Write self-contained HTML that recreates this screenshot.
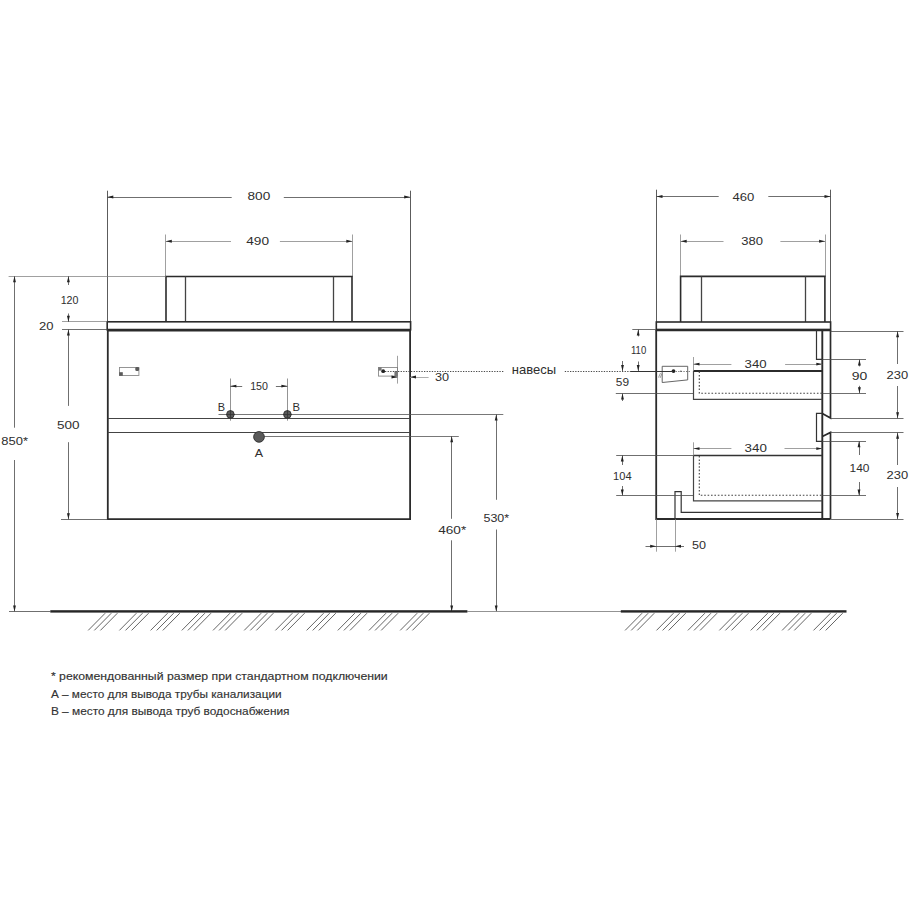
<!DOCTYPE html>
<html><head><meta charset="utf-8"><style>
html,body{margin:0;padding:0;background:#fff;width:909px;height:909px;overflow:hidden}
svg{display:block}
text{font-family:"Liberation Sans",sans-serif}
</style></head><body>
<svg width="909" height="909" viewBox="0 0 909 909">
<rect width="909" height="909" fill="#fff"/>
<line x1="107.5" y1="190.7" x2="107.5" y2="322" stroke="#4a4a4a" stroke-width="0.9"/>
<line x1="410.5" y1="190.7" x2="410.5" y2="322" stroke="#4a4a4a" stroke-width="0.9"/>
<line x1="107.3" y1="197.5" x2="231.7" y2="197.5" stroke="#4a4a4a" stroke-width="0.8"/>
<line x1="283.8" y1="197.5" x2="410.2" y2="197.5" stroke="#4a4a4a" stroke-width="0.8"/>
<polygon points="107.30,197.00 113.30,195.55 113.30,198.45" fill="#222"/>
<polygon points="410.20,197.00 404.20,195.55 404.20,198.45" fill="#222"/>
<text x="247.5" y="200.1" font-size="11.6" fill="#2e2e2e" textLength="22.70" lengthAdjust="spacingAndGlyphs">800</text>
<line x1="165.5" y1="234.5" x2="165.5" y2="277" stroke="#777" stroke-width="0.7"/>
<line x1="352.5" y1="234.5" x2="352.5" y2="277" stroke="#777" stroke-width="0.7"/>
<line x1="165.8" y1="241.5" x2="231" y2="241.5" stroke="#777" stroke-width="0.7"/>
<line x1="279.9" y1="241.5" x2="352.3" y2="241.5" stroke="#777" stroke-width="0.7"/>
<polygon points="165.80,241.30 171.80,239.85 171.80,242.75" fill="#222"/>
<polygon points="352.30,241.30 346.30,239.85 346.30,242.75" fill="#222"/>
<text x="246.2" y="245.3" font-size="11.6" fill="#2e2e2e" textLength="22.80" lengthAdjust="spacingAndGlyphs">490</text>
<polyline points="166,322 166,276.5 352,276.5 352,322" fill="none" stroke="#2b2b2b" stroke-width="1.6" stroke-linejoin="miter"/>
<line x1="185.5" y1="276.5" x2="185.5" y2="322" stroke="#444" stroke-width="1.3"/>
<line x1="333.5" y1="276.5" x2="333.5" y2="322" stroke="#444" stroke-width="1.3"/>
<rect x="107.2" y="321.8" width="303.4" height="8.0" fill="none" stroke="#2b2b2b" stroke-width="1.6"/>
<line x1="107.5" y1="330.1" x2="410.5" y2="330.1" stroke="#2b2b2b" stroke-width="2.6"/>
<polyline points="107.8,330 107.8,519.2 410.1,519.2 410.1,330" fill="none" stroke="#2b2b2b" stroke-width="1.8" stroke-linejoin="miter"/>
<line x1="107.8" y1="418.5" x2="410.1" y2="418.5" stroke="#444" stroke-width="1.0"/>
<line x1="107.8" y1="432.5" x2="410.1" y2="432.5" stroke="#444" stroke-width="1.0"/>
<line x1="8.6" y1="276.5" x2="166" y2="276.5" stroke="#777" stroke-width="0.7"/>
<line x1="62" y1="321.5" x2="107.3" y2="321.5" stroke="#777" stroke-width="0.7"/>
<line x1="62" y1="329.5" x2="107.3" y2="329.5" stroke="#4a4a4a" stroke-width="0.8"/>
<line x1="61" y1="519.5" x2="107.5" y2="519.5" stroke="#4a4a4a" stroke-width="0.8"/>
<line x1="68.5" y1="276.3" x2="68.5" y2="285" stroke="#4a4a4a" stroke-width="0.8"/>
<line x1="68.5" y1="313.5" x2="68.5" y2="321.8" stroke="#4a4a4a" stroke-width="0.8"/>
<polygon points="68.40,276.30 66.95,282.30 69.85,282.30" fill="#222"/>
<polygon points="68.40,321.80 66.95,315.80 69.85,315.80" fill="#222"/>
<text x="60.7" y="303.6" font-size="11.6" fill="#2e2e2e" textLength="17.80" lengthAdjust="spacingAndGlyphs">120</text>
<line x1="68.5" y1="329.4" x2="68.5" y2="405.9" stroke="#4a4a4a" stroke-width="0.8"/>
<polygon points="68.40,329.40 66.95,335.40 69.85,335.40" fill="#222"/>
<line x1="68.5" y1="442.2" x2="68.5" y2="519.3" stroke="#4a4a4a" stroke-width="0.8"/>
<polygon points="68.40,519.30 66.95,513.30 69.85,513.30" fill="#222"/>
<text x="39" y="330.0" font-size="11.6" fill="#2e2e2e" textLength="14.50" lengthAdjust="spacingAndGlyphs">20</text>
<text x="57" y="428.6" font-size="11.6" fill="#2e2e2e" textLength="22.50" lengthAdjust="spacingAndGlyphs">500</text>
<line x1="14.5" y1="276.3" x2="14.5" y2="427.7" stroke="#4a4a4a" stroke-width="0.8"/>
<line x1="14.5" y1="460" x2="14.5" y2="611.4" stroke="#4a4a4a" stroke-width="0.8"/>
<polygon points="14.50,276.30 13.05,282.30 15.95,282.30" fill="#222"/>
<polygon points="14.50,611.40 13.05,605.40 15.95,605.40" fill="#222"/>
<text x="1.3" y="444.9" font-size="11.6" fill="#2e2e2e" textLength="26.70" lengthAdjust="spacingAndGlyphs">850*</text>
<line x1="9" y1="611.5" x2="50.3" y2="611.5" stroke="#4a4a4a" stroke-width="0.8"/>
<rect x="119.5" y="367.5" width="19.4" height="8.0" fill="none" stroke="#8a8a8a" stroke-width="0.9"/>
<rect x="119.2" y="372.2" width="3.6" height="3.6" fill="#5a5a5a"/>
<rect x="135.3" y="367.1" width="3.8" height="4.0" rx="1.4" fill="#5a5a5a"/>
<rect x="378.5" y="367.5" width="19.0" height="8.6" fill="none" stroke="#8a8a8a" stroke-width="0.9"/>
<rect x="378.3" y="367.3" width="3.3" height="3.3" fill="#777"/>
<rect x="394.4" y="371.2" width="3.1" height="5.2" fill="#777"/>
<circle cx="383.2" cy="371.2" r="1.9" fill="#222"/>
<line x1="385" y1="371.5" x2="503.4" y2="371.5" stroke="#4a4a4a" stroke-width="1" stroke-dasharray="1.3 1.3"/>
<line x1="564.8" y1="371.5" x2="631" y2="371.5" stroke="#4a4a4a" stroke-width="1" stroke-dasharray="1.3 1.3"/>
<line x1="673" y1="371.5" x2="690" y2="371.5" stroke="#777" stroke-width="1" stroke-dasharray="1.3 1.3"/>
<text x="511.8" y="374.1" font-size="12.4" fill="#2e2e2e" textLength="44.30" lengthAdjust="spacingAndGlyphs">навесы</text>
<line x1="397.5" y1="355.8" x2="397.5" y2="383.6" stroke="#777" stroke-width="0.7"/>
<line x1="392" y1="377.5" x2="397.5" y2="377.5" stroke="#777" stroke-width="0.7"/>
<polygon points="397.50,377.00 391.50,375.55 391.50,378.45" fill="#222"/>
<line x1="410" y1="377.5" x2="428.6" y2="377.5" stroke="#999" stroke-width="0.8"/>
<polygon points="410.00,377.00 416.00,375.55 416.00,378.45" fill="#222"/>
<text x="435" y="380.7" font-size="11.6" fill="#2e2e2e" textLength="14.10" lengthAdjust="spacingAndGlyphs">30</text>
<line x1="230.5" y1="378.5" x2="230.5" y2="420.7" stroke="#666" stroke-width="0.7"/>
<line x1="287.5" y1="378.5" x2="287.5" y2="420.7" stroke="#666" stroke-width="0.7"/>
<line x1="230.4" y1="386.5" x2="242.2" y2="386.5" stroke="#4a4a4a" stroke-width="0.8"/>
<line x1="275.9" y1="386.5" x2="287.4" y2="386.5" stroke="#4a4a4a" stroke-width="0.8"/>
<polygon points="230.40,386.10 236.40,384.65 236.40,387.55" fill="#222"/>
<polygon points="287.40,386.10 281.40,384.65 281.40,387.55" fill="#222"/>
<text x="250.2" y="389.7" font-size="11.6" fill="#2e2e2e" textLength="17.80" lengthAdjust="spacingAndGlyphs">150</text>
<line x1="218.5" y1="414.5" x2="503.3" y2="414.5" stroke="#555" stroke-width="0.8"/>
<circle cx="230.4" cy="414.4" r="3.8" fill="#5a5a5a" stroke="#303030" stroke-width="0.9"/>
<line x1="230.5" y1="410" x2="230.5" y2="419" stroke="#333" stroke-width="0.8"/>
<line x1="226" y1="414.5" x2="235" y2="414.5" stroke="#333" stroke-width="0.8"/>
<circle cx="287.4" cy="414.4" r="3.8" fill="#5a5a5a" stroke="#303030" stroke-width="0.9"/>
<line x1="287.5" y1="410" x2="287.5" y2="419" stroke="#333" stroke-width="0.8"/>
<line x1="283" y1="414.5" x2="292" y2="414.5" stroke="#333" stroke-width="0.8"/>
<text x="217.8" y="410.8" font-size="11.6" fill="#2e2e2e" textLength="7.30" lengthAdjust="spacingAndGlyphs">B</text>
<text x="292.4" y="410.8" font-size="11.6" fill="#2e2e2e" textLength="7.50" lengthAdjust="spacingAndGlyphs">B</text>
<line x1="259" y1="436.5" x2="458.8" y2="436.5" stroke="#555" stroke-width="0.8"/>
<circle cx="259" cy="436.9" r="5.35" fill="#5a5a5a" stroke="#303030" stroke-width="0.9"/>
<text x="254.8" y="457" font-size="11.6" fill="#2e2e2e" textLength="8.30" lengthAdjust="spacingAndGlyphs">A</text>
<line x1="451.5" y1="436.3" x2="451.5" y2="518.8" stroke="#4a4a4a" stroke-width="0.8"/>
<line x1="451.5" y1="540.3" x2="451.5" y2="611.4" stroke="#4a4a4a" stroke-width="0.8"/>
<polygon points="451.70,436.30 450.25,442.30 453.15,442.30" fill="#222"/>
<polygon points="451.70,611.40 450.25,605.40 453.15,605.40" fill="#222"/>
<text x="438.2" y="534" font-size="11.6" fill="#2e2e2e" textLength="28.00" lengthAdjust="spacingAndGlyphs">460*</text>
<line x1="496.5" y1="414.5" x2="496.5" y2="499.8" stroke="#4a4a4a" stroke-width="0.8"/>
<line x1="496.5" y1="529.5" x2="496.5" y2="611.4" stroke="#4a4a4a" stroke-width="0.8"/>
<polygon points="496.20,414.50 494.75,420.50 497.65,420.50" fill="#222"/>
<polygon points="496.20,611.40 494.75,605.40 497.65,605.40" fill="#222"/>
<text x="483.5" y="522.1" font-size="11.6" fill="#2e2e2e" textLength="25.60" lengthAdjust="spacingAndGlyphs">530*</text>
<rect x="50.3" y="610.2" width="417.1" height="2.4" fill="#262626"/>
<line x1="467" y1="611.5" x2="621" y2="611.5" stroke="#777" stroke-width="0.8"/>
<line x1="88.20" y1="630.4" x2="105.20" y2="613.2" stroke="#555" stroke-width="0.9"/>
<line x1="94.30" y1="630.4" x2="111.30" y2="613.2" stroke="#555" stroke-width="0.9"/>
<line x1="100.40" y1="630.4" x2="117.40" y2="613.2" stroke="#555" stroke-width="0.9"/>
<line x1="119.40" y1="630.4" x2="136.40" y2="613.2" stroke="#555" stroke-width="0.9"/>
<line x1="125.50" y1="630.4" x2="142.50" y2="613.2" stroke="#555" stroke-width="0.9"/>
<line x1="131.60" y1="630.4" x2="148.60" y2="613.2" stroke="#555" stroke-width="0.9"/>
<line x1="150.60" y1="630.4" x2="167.60" y2="613.2" stroke="#555" stroke-width="0.9"/>
<line x1="156.70" y1="630.4" x2="173.70" y2="613.2" stroke="#555" stroke-width="0.9"/>
<line x1="162.80" y1="630.4" x2="179.80" y2="613.2" stroke="#555" stroke-width="0.9"/>
<line x1="181.80" y1="630.4" x2="198.80" y2="613.2" stroke="#555" stroke-width="0.9"/>
<line x1="187.90" y1="630.4" x2="204.90" y2="613.2" stroke="#555" stroke-width="0.9"/>
<line x1="194.00" y1="630.4" x2="211.00" y2="613.2" stroke="#555" stroke-width="0.9"/>
<line x1="213.00" y1="630.4" x2="230.00" y2="613.2" stroke="#555" stroke-width="0.9"/>
<line x1="219.10" y1="630.4" x2="236.10" y2="613.2" stroke="#555" stroke-width="0.9"/>
<line x1="225.20" y1="630.4" x2="242.20" y2="613.2" stroke="#555" stroke-width="0.9"/>
<line x1="244.20" y1="630.4" x2="261.20" y2="613.2" stroke="#555" stroke-width="0.9"/>
<line x1="250.30" y1="630.4" x2="267.30" y2="613.2" stroke="#555" stroke-width="0.9"/>
<line x1="256.40" y1="630.4" x2="273.40" y2="613.2" stroke="#555" stroke-width="0.9"/>
<line x1="275.40" y1="630.4" x2="292.40" y2="613.2" stroke="#555" stroke-width="0.9"/>
<line x1="281.50" y1="630.4" x2="298.50" y2="613.2" stroke="#555" stroke-width="0.9"/>
<line x1="287.60" y1="630.4" x2="304.60" y2="613.2" stroke="#555" stroke-width="0.9"/>
<line x1="306.60" y1="630.4" x2="323.60" y2="613.2" stroke="#555" stroke-width="0.9"/>
<line x1="312.70" y1="630.4" x2="329.70" y2="613.2" stroke="#555" stroke-width="0.9"/>
<line x1="318.80" y1="630.4" x2="335.80" y2="613.2" stroke="#555" stroke-width="0.9"/>
<line x1="337.80" y1="630.4" x2="354.80" y2="613.2" stroke="#555" stroke-width="0.9"/>
<line x1="343.90" y1="630.4" x2="360.90" y2="613.2" stroke="#555" stroke-width="0.9"/>
<line x1="350.00" y1="630.4" x2="367.00" y2="613.2" stroke="#555" stroke-width="0.9"/>
<line x1="369.00" y1="630.4" x2="386.00" y2="613.2" stroke="#555" stroke-width="0.9"/>
<line x1="375.10" y1="630.4" x2="392.10" y2="613.2" stroke="#555" stroke-width="0.9"/>
<line x1="381.20" y1="630.4" x2="398.20" y2="613.2" stroke="#555" stroke-width="0.9"/>
<line x1="400.20" y1="630.4" x2="417.20" y2="613.2" stroke="#555" stroke-width="0.9"/>
<line x1="406.30" y1="630.4" x2="423.30" y2="613.2" stroke="#555" stroke-width="0.9"/>
<line x1="412.40" y1="630.4" x2="429.40" y2="613.2" stroke="#555" stroke-width="0.9"/>
<line x1="656.5" y1="189.7" x2="656.5" y2="322" stroke="#4a4a4a" stroke-width="0.9"/>
<line x1="830.5" y1="189.7" x2="830.5" y2="322" stroke="#4a4a4a" stroke-width="0.9"/>
<line x1="656.5" y1="196.5" x2="718.7" y2="196.5" stroke="#4a4a4a" stroke-width="0.8"/>
<line x1="768.3" y1="196.5" x2="830.5" y2="196.5" stroke="#4a4a4a" stroke-width="0.8"/>
<polygon points="656.50,196.50 662.50,195.05 662.50,197.95" fill="#222"/>
<polygon points="830.50,196.50 824.50,195.05 824.50,197.95" fill="#222"/>
<text x="732.4" y="200.6" font-size="11.6" fill="#2e2e2e" textLength="21.80" lengthAdjust="spacingAndGlyphs">460</text>
<line x1="680.5" y1="234.5" x2="680.5" y2="277" stroke="#777" stroke-width="0.7"/>
<line x1="825.5" y1="234.5" x2="825.5" y2="277" stroke="#777" stroke-width="0.7"/>
<line x1="680.7" y1="241.5" x2="723.5" y2="241.5" stroke="#777" stroke-width="0.7"/>
<line x1="780.4" y1="241.5" x2="825.1" y2="241.5" stroke="#777" stroke-width="0.7"/>
<polygon points="680.70,241.20 686.70,239.75 686.70,242.65" fill="#222"/>
<polygon points="825.10,241.20 819.10,239.75 819.10,242.65" fill="#222"/>
<text x="741.2" y="245.3" font-size="11.6" fill="#2e2e2e" textLength="21.70" lengthAdjust="spacingAndGlyphs">380</text>
<polyline points="680.6,322 680.6,276.4 824.9,276.4 824.9,322" fill="none" stroke="#2b2b2b" stroke-width="1.6" stroke-linejoin="miter"/>
<line x1="701.5" y1="276.4" x2="701.5" y2="322" stroke="#444" stroke-width="1.3"/>
<line x1="805.5" y1="276.4" x2="805.5" y2="322" stroke="#444" stroke-width="1.3"/>
<rect x="656.3" y="322" width="174.3" height="7.7" fill="none" stroke="#2b2b2b" stroke-width="1.6"/>
<line x1="656.3" y1="330.0" x2="830.6" y2="330.0" stroke="#2b2b2b" stroke-width="2.6"/>
<polyline points="656.2,330 656.2,519.0 830.6,519.0" fill="none" stroke="#2b2b2b" stroke-width="1.8" stroke-linejoin="miter"/>
<polyline points="830.5,330 830.5,418.1 822.3,413.5" fill="none" stroke="#2b2b2b" stroke-width="1.7" stroke-linejoin="miter"/>
<line x1="822.3" y1="330" x2="822.3" y2="519" stroke="#2b2b2b" stroke-width="1.9"/>
<polyline points="816.5,330 816.5,359.3 822.3,359.3" fill="none" stroke="#333" stroke-width="1.2" stroke-linejoin="miter"/>
<polyline points="822.3,413.3 816.5,413.3 816.5,441.4 822.3,441.4" fill="none" stroke="#333" stroke-width="1.2" stroke-linejoin="miter"/>
<polyline points="822.3,436.6 830.5,432.5 830.5,519" fill="none" stroke="#2b2b2b" stroke-width="1.7" stroke-linejoin="miter"/>
<polyline points="693.5,371.0 822.3,371.0" fill="none" stroke="#2b2b2b" stroke-width="1.8" stroke-linejoin="miter"/>
<polyline points="693.5,371 693.5,399.3 822.3,399.3" fill="none" stroke="#444" stroke-width="1.2" stroke-linejoin="miter"/>
<polyline points="699.3,371.5 699.3,393.3 822,393.3" fill="none" stroke="#444" stroke-width="1.1" stroke-dasharray="1.6 1.8"/>
<polyline points="693.5,455.5 822.3,455.5" fill="none" stroke="#333" stroke-width="1.3" stroke-linejoin="miter"/>
<polyline points="693.5,455.5 693.5,500.9 822.3,500.9" fill="none" stroke="#444" stroke-width="1.2" stroke-linejoin="miter"/>
<polyline points="699.3,456 699.3,495.3 822,495.3" fill="none" stroke="#444" stroke-width="1.1" stroke-dasharray="1.6 1.8"/>
<polyline points="675,519 675,491.6 681.2,491.6 681.2,512.3 822.3,512.3" fill="none" stroke="#333" stroke-width="1.2" stroke-linejoin="miter"/>
<polygon points="662.2,366.3 687.7,366.3 687.7,379.9 662.2,382.5" fill="none" stroke="#555" stroke-width="0.9" stroke-linejoin="miter"/>
<circle cx="673.5" cy="371.1" r="1.9" fill="#222"/>
<circle cx="680.9" cy="371.3" r="0.8" fill="#555"/>
<line x1="631" y1="371.5" x2="673" y2="371.5" stroke="#333" stroke-width="1.2"/>
<path d="M658.5,377.5 L660.5,373 M660,378 L662,373.5" stroke="#777" stroke-width="0.7"/>
<line x1="632.3" y1="329.5" x2="656" y2="329.5" stroke="#4a4a4a" stroke-width="0.8"/>
<line x1="638.5" y1="329.6" x2="638.5" y2="336.4" stroke="#4a4a4a" stroke-width="0.8"/>
<polygon points="638.20,329.60 636.75,335.60 639.65,335.60" fill="#222"/>
<line x1="638.5" y1="361.5" x2="638.5" y2="371" stroke="#4a4a4a" stroke-width="0.8"/>
<polygon points="638.20,371.00 636.75,365.00 639.65,365.00" fill="#222"/>
<text x="631" y="353.6" font-size="11.6" fill="#2e2e2e" textLength="15.20" lengthAdjust="spacingAndGlyphs">110</text>
<line x1="622.5" y1="361" x2="622.5" y2="371" stroke="#4a4a4a" stroke-width="0.8"/>
<polygon points="622.50,371.00 621.05,365.00 623.95,365.00" fill="#222"/>
<line x1="615.8" y1="393.5" x2="693.5" y2="393.5" stroke="#4a4a4a" stroke-width="0.8"/>
<line x1="622.5" y1="393.5" x2="622.5" y2="401" stroke="#4a4a4a" stroke-width="0.8"/>
<polygon points="622.50,393.50 621.05,399.50 623.95,399.50" fill="#222"/>
<text x="615.8" y="385.5" font-size="11.6" fill="#2e2e2e" textLength="13.20" lengthAdjust="spacingAndGlyphs">59</text>
<line x1="693.5" y1="357" x2="693.5" y2="371" stroke="#777" stroke-width="0.7"/>
<line x1="693.5" y1="364.5" x2="731.4" y2="364.5" stroke="#777" stroke-width="0.7"/>
<line x1="785.1" y1="364.5" x2="822.3" y2="364.5" stroke="#777" stroke-width="0.7"/>
<polygon points="693.50,364.10 699.50,362.65 699.50,365.55" fill="#222"/>
<polygon points="822.30,364.10 816.30,362.65 816.30,365.55" fill="#222"/>
<text x="744.6" y="367.9" font-size="11.6" fill="#2e2e2e" textLength="22.00" lengthAdjust="spacingAndGlyphs">340</text>
<line x1="693.5" y1="442.3" x2="693.5" y2="455.5" stroke="#777" stroke-width="0.7"/>
<line x1="693.5" y1="448.5" x2="731.4" y2="448.5" stroke="#777" stroke-width="0.7"/>
<line x1="784.5" y1="448.5" x2="822.3" y2="448.5" stroke="#777" stroke-width="0.7"/>
<polygon points="693.50,448.60 699.50,447.15 699.50,450.05" fill="#222"/>
<polygon points="822.30,448.60 816.30,447.15 816.30,450.05" fill="#222"/>
<text x="744.6" y="452.4" font-size="11.6" fill="#2e2e2e" textLength="22.30" lengthAdjust="spacingAndGlyphs">340</text>
<line x1="616.2" y1="455.5" x2="693.5" y2="455.5" stroke="#4a4a4a" stroke-width="0.8"/>
<line x1="616.2" y1="495.5" x2="693.5" y2="495.5" stroke="#4a4a4a" stroke-width="0.8"/>
<line x1="622.5" y1="455.4" x2="622.5" y2="465" stroke="#4a4a4a" stroke-width="0.8"/>
<polygon points="622.30,455.40 620.85,461.40 623.75,461.40" fill="#222"/>
<line x1="622.5" y1="486" x2="622.5" y2="495.5" stroke="#4a4a4a" stroke-width="0.8"/>
<polygon points="622.30,495.50 620.85,489.50 623.75,489.50" fill="#222"/>
<text x="613.1" y="479.8" font-size="11.6" fill="#2e2e2e" textLength="18.50" lengthAdjust="spacingAndGlyphs">104</text>
<line x1="656.5" y1="519" x2="656.5" y2="551.7" stroke="#777" stroke-width="0.7"/>
<line x1="675.5" y1="519" x2="675.5" y2="551.7" stroke="#777" stroke-width="0.7"/>
<line x1="645.5" y1="546.5" x2="684" y2="546.5" stroke="#4a4a4a" stroke-width="0.8"/>
<polygon points="656.20,546.30 650.20,544.85 650.20,547.75" fill="#222"/>
<polygon points="675.00,546.30 681.00,544.85 681.00,547.75" fill="#222"/>
<text x="692" y="549.1" font-size="11.6" fill="#2e2e2e" textLength="14.00" lengthAdjust="spacingAndGlyphs">50</text>
<line x1="830.5" y1="331.5" x2="903.5" y2="331.5" stroke="#4a4a4a" stroke-width="0.8"/>
<line x1="830.5" y1="418.5" x2="903.5" y2="418.5" stroke="#4a4a4a" stroke-width="0.8"/>
<line x1="830.5" y1="432.5" x2="903.5" y2="432.5" stroke="#4a4a4a" stroke-width="0.8"/>
<line x1="830.5" y1="519.5" x2="903.5" y2="519.5" stroke="#4a4a4a" stroke-width="0.8"/>
<line x1="822.3" y1="359.5" x2="866" y2="359.5" stroke="#4a4a4a" stroke-width="0.8"/>
<line x1="822.3" y1="393.5" x2="866" y2="393.5" stroke="#4a4a4a" stroke-width="0.8"/>
<line x1="822.3" y1="441.5" x2="866" y2="441.5" stroke="#4a4a4a" stroke-width="0.8"/>
<line x1="822.3" y1="495.5" x2="866" y2="495.5" stroke="#4a4a4a" stroke-width="0.8"/>
<line x1="897.5" y1="331.2" x2="897.5" y2="364" stroke="#4a4a4a" stroke-width="0.8"/>
<line x1="897.5" y1="386" x2="897.5" y2="418.3" stroke="#4a4a4a" stroke-width="0.8"/>
<polygon points="897.60,331.20 896.15,337.20 899.05,337.20" fill="#222"/>
<polygon points="897.60,418.30 896.15,412.30 899.05,412.30" fill="#222"/>
<text x="886.6" y="378.9" font-size="11.6" fill="#2e2e2e" textLength="21.60" lengthAdjust="spacingAndGlyphs">230</text>
<line x1="897.5" y1="432.7" x2="897.5" y2="465" stroke="#4a4a4a" stroke-width="0.8"/>
<line x1="897.5" y1="487" x2="897.5" y2="519" stroke="#4a4a4a" stroke-width="0.8"/>
<polygon points="897.60,432.70 896.15,438.70 899.05,438.70" fill="#222"/>
<polygon points="897.60,519.00 896.15,513.00 899.05,513.00" fill="#222"/>
<text x="886.6" y="479.0" font-size="11.6" fill="#2e2e2e" textLength="21.60" lengthAdjust="spacingAndGlyphs">230</text>
<line x1="859.5" y1="359.5" x2="859.5" y2="366.4" stroke="#4a4a4a" stroke-width="0.8"/>
<polygon points="859.40,359.50 857.95,365.50 860.85,365.50" fill="#222"/>
<line x1="859.5" y1="385.8" x2="859.5" y2="393.2" stroke="#4a4a4a" stroke-width="0.8"/>
<polygon points="859.40,393.20 857.95,387.20 860.85,387.20" fill="#222"/>
<text x="851.7" y="379.5" font-size="11.6" fill="#2e2e2e" textLength="15.50" lengthAdjust="spacingAndGlyphs">90</text>
<line x1="859.5" y1="441.2" x2="859.5" y2="455" stroke="#4a4a4a" stroke-width="0.8"/>
<polygon points="859.00,441.20 857.55,447.20 860.45,447.20" fill="#222"/>
<line x1="859.5" y1="482" x2="859.5" y2="495.5" stroke="#4a4a4a" stroke-width="0.8"/>
<polygon points="859.00,495.50 857.55,489.50 860.45,489.50" fill="#222"/>
<text x="849.5" y="472.4" font-size="11.6" fill="#2e2e2e" textLength="19.90" lengthAdjust="spacingAndGlyphs">140</text>
<rect x="620.8" y="610.2" width="225.7" height="2.4" fill="#262626"/>
<line x1="625.10" y1="630.4" x2="642.10" y2="613.2" stroke="#555" stroke-width="0.9"/>
<line x1="631.20" y1="630.4" x2="648.20" y2="613.2" stroke="#555" stroke-width="0.9"/>
<line x1="637.30" y1="630.4" x2="654.30" y2="613.2" stroke="#555" stroke-width="0.9"/>
<line x1="656.50" y1="630.4" x2="673.50" y2="613.2" stroke="#555" stroke-width="0.9"/>
<line x1="662.60" y1="630.4" x2="679.60" y2="613.2" stroke="#555" stroke-width="0.9"/>
<line x1="668.70" y1="630.4" x2="685.70" y2="613.2" stroke="#555" stroke-width="0.9"/>
<line x1="687.90" y1="630.4" x2="704.90" y2="613.2" stroke="#555" stroke-width="0.9"/>
<line x1="694.00" y1="630.4" x2="711.00" y2="613.2" stroke="#555" stroke-width="0.9"/>
<line x1="700.10" y1="630.4" x2="717.10" y2="613.2" stroke="#555" stroke-width="0.9"/>
<line x1="719.30" y1="630.4" x2="736.30" y2="613.2" stroke="#555" stroke-width="0.9"/>
<line x1="725.40" y1="630.4" x2="742.40" y2="613.2" stroke="#555" stroke-width="0.9"/>
<line x1="731.50" y1="630.4" x2="748.50" y2="613.2" stroke="#555" stroke-width="0.9"/>
<line x1="750.70" y1="630.4" x2="767.70" y2="613.2" stroke="#555" stroke-width="0.9"/>
<line x1="756.80" y1="630.4" x2="773.80" y2="613.2" stroke="#555" stroke-width="0.9"/>
<line x1="762.90" y1="630.4" x2="779.90" y2="613.2" stroke="#555" stroke-width="0.9"/>
<line x1="782.10" y1="630.4" x2="799.10" y2="613.2" stroke="#555" stroke-width="0.9"/>
<line x1="788.20" y1="630.4" x2="805.20" y2="613.2" stroke="#555" stroke-width="0.9"/>
<line x1="794.30" y1="630.4" x2="811.30" y2="613.2" stroke="#555" stroke-width="0.9"/>
<line x1="813.50" y1="630.4" x2="830.50" y2="613.2" stroke="#555" stroke-width="0.9"/>
<line x1="819.60" y1="630.4" x2="836.60" y2="613.2" stroke="#555" stroke-width="0.9"/>
<line x1="825.70" y1="630.4" x2="842.70" y2="613.2" stroke="#555" stroke-width="0.9"/>
<text x="50.9" y="679.8" font-size="11.6" fill="#333" textLength="336.80" lengthAdjust="spacingAndGlyphs" stroke="#333" stroke-width="0.15">* рекомендованный размер при стандартном подключении</text>
<text x="50.9" y="697.6" font-size="11.6" fill="#333" textLength="230.70" lengthAdjust="spacingAndGlyphs" stroke="#333" stroke-width="0.15">А – место для вывода трубы канализации</text>
<text x="50.9" y="714.5" font-size="11.6" fill="#333" textLength="238.60" lengthAdjust="spacingAndGlyphs" stroke="#333" stroke-width="0.15">В – место для вывода труб водоснабжения</text>
</svg>
</body></html>
